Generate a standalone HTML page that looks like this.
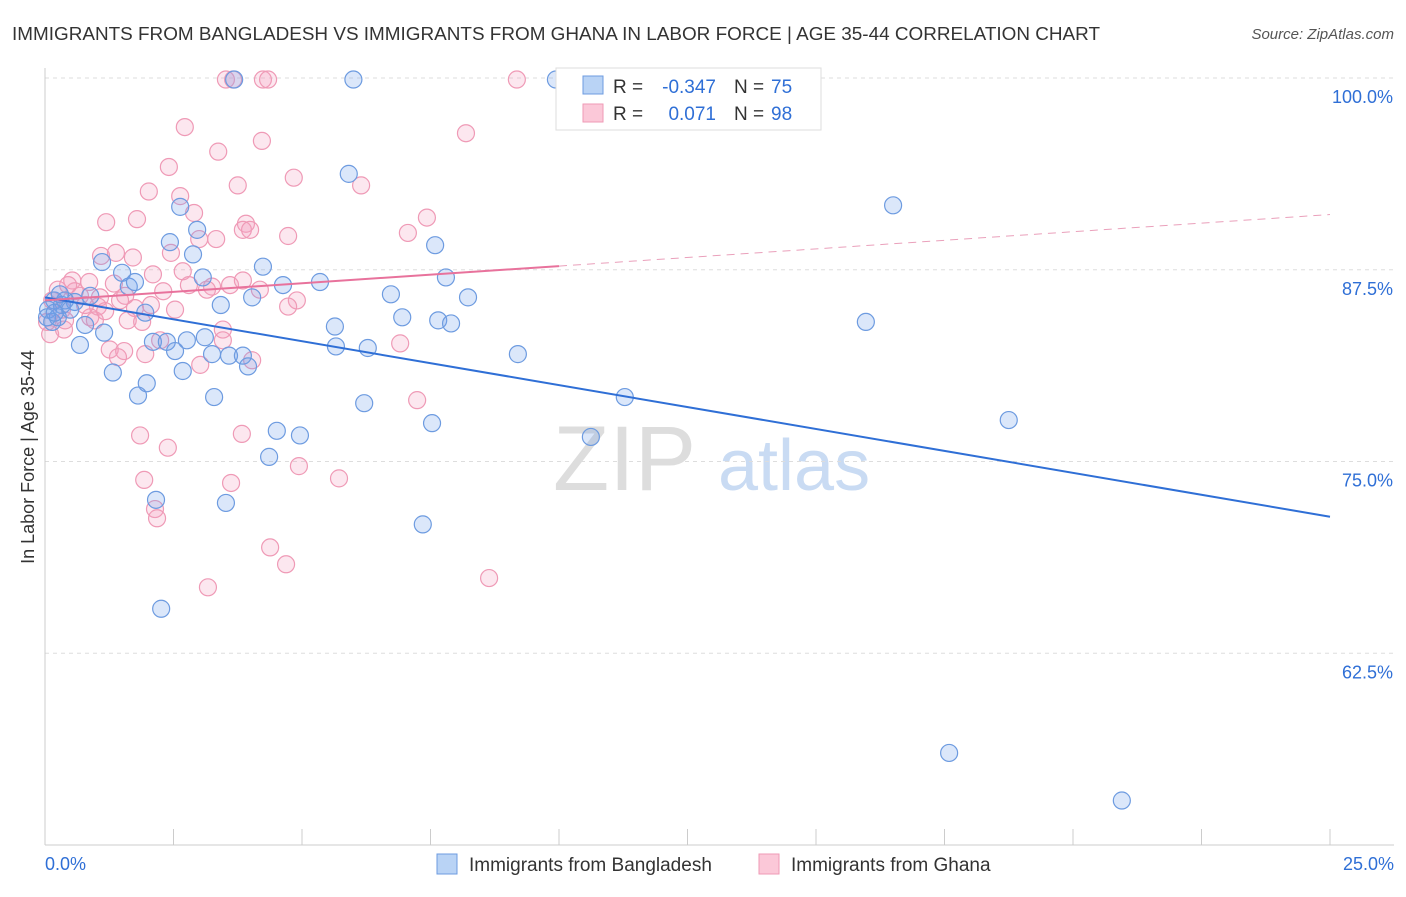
<!DOCTYPE html>
<html><head><meta charset="utf-8">
<style>
body{margin:0;background:#fff;font-family:"Liberation Sans",sans-serif;}
svg text{font-family:"Liberation Sans",sans-serif;}
</style></head>
<body>
<svg id="chart" width="1406" height="892" xmlns="http://www.w3.org/2000/svg">
<text x="12" y="40" font-size="18" fill="#333" textLength="1088" lengthAdjust="spacingAndGlyphs">IMMIGRANTS FROM BANGLADESH VS IMMIGRANTS FROM GHANA IN LABOR FORCE | AGE 35-44 CORRELATION CHART</text>
<text x="1394" y="39" font-size="15" fill="#555" text-anchor="end" font-style="italic">Source: ZipAtlas.com</text>
<g>
<text x="553" y="490" font-size="92" fill="#ddd" font-family="Liberation Serif">ZIP</text>
<text x="718" y="490" font-size="72" fill="#c9dbf3">atlas</text>
</g>
<g id="grid"></g>
<g id="axes"></g>
<g id="pink"></g>
<g id="blue"></g>
<g id="trends"></g>
<g>
<rect x="556" y="68" width="265" height="62" fill="#fff" stroke="#ddd"/>
<rect x="583" y="76" width="20" height="18" fill="#b9d3f5" stroke="#6d9be0"/>
<rect x="583" y="104" width="20" height="18" fill="#fbc8d8" stroke="#ef9ab6"/>
<g font-size="19">
<text x="613" y="93" fill="#333">R =</text>
<text x="716" y="93" fill="#2f6fd6" text-anchor="end">-0.347</text>
<text x="734" y="93" fill="#333">N =</text>
<text x="771" y="93" fill="#2f6fd6">75</text>
</g>
<g font-size="19">
<text x="613" y="120" fill="#333">R =</text>
<text x="716" y="120" fill="#2f6fd6" text-anchor="end">0.071</text>
<text x="734" y="120" fill="#333">N =</text>
<text x="771" y="120" fill="#2f6fd6">98</text>
</g>
</g>
<g>
<rect x="437" y="854" width="20" height="20" fill="#b9d3f5" stroke="#6d9be0"/>
<text x="469" y="871" font-size="19" fill="#333">Immigrants from Bangladesh</text>
<rect x="759" y="854" width="20" height="20" fill="#fbc8d8" stroke="#ef9ab6"/>
<text x="791" y="871" font-size="19" fill="#333">Immigrants from Ghana</text>
</g>
<text transform="translate(34,457) rotate(-90)" font-size="18" fill="#333" text-anchor="middle">In Labor Force | Age 35-44</text>
</svg>
<script>
const blueX=[6.0,9.94,3.68,5.91,16.5,2.63,2.43,2.96,7.59,2.88,4.24,1.11,1.50,3.07,7.80,1.63,4.63,5.35,4.03,6.73,8.23,3.42,0.18,0.33,0.06,0.58,1.95,6.95,7.65,7.90,15.97,5.64,0.78,1.15,0.14,0.25,3.11,2.76,2.10,2.37,0.68,5.66,6.28,9.20,3.25,3.58,3.85,2.53,3.95,2.68,1.32,1.98,1.81,3.29,11.28,6.21,7.53,18.75,4.51,4.96,10.62,4.36,2.16,3.52,7.35,2.26,17.59,20.95,0.39,0.49,0.88,0.04,0.19,0.29,1.75];
const blueY=[99.9,99.9,99.9,93.75,91.7,91.6,89.3,90.1,89.1,88.5,87.7,88.0,87.3,87.0,87.0,86.4,86.5,86.7,85.7,85.9,85.7,85.2,85.5,85.2,84.9,85.4,84.7,84.4,84.2,84.0,84.1,83.8,83.9,83.4,84.1,84.4,83.1,82.9,82.8,82.8,82.6,82.5,82.4,82.0,82.0,81.9,81.9,82.2,81.2,80.9,80.8,80.1,79.3,79.2,79.2,78.8,77.5,77.7,77.0,76.7,76.6,75.3,72.5,72.3,70.9,65.4,56.0,52.9,85.5,84.9,85.8,84.4,84.7,85.9,86.7];
const pinkX=[3.52,3.66,4.24,4.34,9.18,2.72,8.19,4.22,3.37,2.41,4.84,3.75,6.15,2.02,2.63,2.90,7.43,1.79,1.19,3.91,3.85,3.99,7.06,4.73,3.0,3.33,1.09,1.38,2.45,1.71,2.68,2.10,0.53,0.86,2.80,1.34,0.58,2.30,3.60,3.85,3.25,3.15,1.56,4.90,4.73,2.06,1.75,0.33,1.03,0.88,0.97,1.61,1.89,0.37,3.46,3.46,2.24,6.91,1.26,1.54,1.95,1.42,4.03,3.02,7.24,1.85,3.83,2.39,4.94,1.93,5.72,3.62,2.14,2.18,4.38,4.69,8.64,3.17,0.10,0.04,0.14,0.68,0.25,0.45,0.78,1.07,1.46,1.17,4.18,2.53,0.39];
const pinkY=[99.9,99.9,99.9,99.9,99.9,96.8,96.4,95.9,95.2,94.2,93.5,93.0,93.0,92.6,92.3,91.2,90.9,90.8,90.6,90.5,90.1,90.1,89.9,89.7,89.5,89.5,88.4,88.6,88.6,88.3,87.4,87.2,86.8,86.7,86.5,86.6,86.1,86.1,86.5,86.8,86.4,86.2,85.8,85.5,85.1,85.2,85.0,84.9,85.1,84.4,84.2,84.2,84.1,83.6,83.6,82.9,82.9,82.7,82.3,82.2,82.0,81.8,81.6,81.3,79.0,76.7,76.8,75.9,74.7,73.8,73.9,73.6,71.9,71.3,69.4,68.3,67.4,66.8,83.3,84.1,85.5,85.8,86.2,86.5,85.2,85.7,85.5,84.8,86.2,84.9,84.2];
const blueTrend=[85.7,71.4];
const pinkTrend=[85.5,91.1];
const yTicks=[100,87.5,75,62.5];
const yTickLabels=["100.0%","87.5%","75.0%","62.5%"];
const xTicks=[0,2.5,5,7.5,10,12.5,15,17.5,20,22.5,25];
const NS="http://www.w3.org/2000/svg";
const X=v=>45+v/25*1285, Y=v=>845-(v-50)/50*767;
function mk(t,a,p){const e=document.createElementNS(NS,t);for(const k in a)e.setAttribute(k,a[k]);p.appendChild(e);return e;}
const grid=document.getElementById('grid'),axes=document.getElementById('axes');
yTicks.forEach((v,i)=>{
 const l=mk('line',{x1:45,x2:1394,y1:Y(v),y2:Y(v),stroke:'#ddd','stroke-dasharray':'4,4'},grid);
 
 
 const t=mk('text',{x:1393,y:Y(v)+25,'font-size':18,fill:'#2f6fd6','text-anchor':'end'},axes);
 t.textContent=yTickLabels[i];
 
 
});
const ax=mk('line',{x1:45,x2:1394,y1:845,y2:845,stroke:'#ccc'},axes);


const ay=mk('line',{x1:45,x2:45,y1:68,y2:845,stroke:'#ccc'},axes);


xTicks.forEach(v=>{
 const t=mk('line',{x1:X(v),x2:X(v),y1:829,y2:845,stroke:'#ccc'},axes);
 
 
});
[[0,'0.0%','start',45],[25,'25.0%','end',1394]].forEach(d=>{
 const t=mk('text',{x:d[3],y:870,'font-size':18,fill:'#2f6fd6','text-anchor':d[2]},axes);
 t.textContent=d[1];
 
 
});
function dots(xs,ys,g,fill,stroke,name){
 xs.forEach((x,i)=>{
  const c=mk('circle',{cx:X(x),cy:Y(ys[i]),r:8.5,fill:fill,stroke:stroke,'stroke-width':1.2},g);
  
  
 });
}
dots(pinkX,pinkY,document.getElementById('pink'),'rgba(245,160,190,0.25)','#ef9ab6','ghana-point');
dots(blueX,blueY,document.getElementById('blue'),'rgba(110,160,235,0.25)','#6d9be0','bangladesh-point');
const tr=document.getElementById('trends');
const bl=mk('line',{x1:X(0),y1:Y(blueTrend[0]),x2:X(25),y2:Y(blueTrend[1]),stroke:'#2f6fd6','stroke-width':2},tr);


const pm=v=>pinkTrend[0]+(pinkTrend[1]-pinkTrend[0])*v/25;
const ps=mk('line',{x1:X(0),y1:Y(pm(0)),x2:X(10),y2:Y(pm(10)),stroke:'#e8729c','stroke-width':2},tr);


const pd=mk('line',{x1:X(10),y1:Y(pm(10)),x2:X(25),y2:Y(pm(25)),stroke:'#eaa0bb','stroke-width':1,'stroke-dasharray':'8,6'},tr);


</script>
</body></html>
